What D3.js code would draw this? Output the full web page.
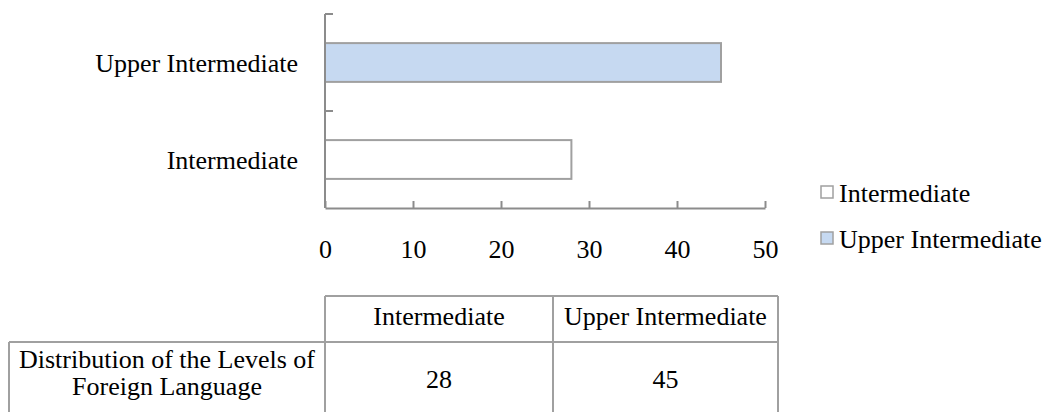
<!DOCTYPE html>
<html>
<head>
<meta charset="utf-8">
<script src="https://cdn.jsdelivr.net/npm/d3@7"></script>
<style>
  html, body { margin: 0; padding: 0; background: #fff; }
  svg { display: block; font-family: "Liberation Serif", "Times New Roman", serif; }
</style>
</head>
<body>
<svg id="chart" width="1054" height="412"></svg>
<script>
// Levels of foreign language (bottom to top on the chart)
const categories = ["Intermediate", "Upper Intermediate"];
const values = [28, 45];
const seriesColors = ["#ffffff", "#c6d9f1"];
const xTicks = [0, 10, 20, 30, 40, 50];
const rowLabelLines = ["Distribution of the Levels of", "Foreign Language"];

const svg = d3.select("#chart");
const FONT = 26;
const lineColor = "#a0a0a0";
const axisColor = "#8c8c8c";

const x = d3.scaleLinear().domain([0, 50]).range([325, 765]);
const y = d3.scaleBand()
  .domain(categories.slice().reverse())
  .range([14, 208])
  .paddingInner(0.6)
  .paddingOuter(0.3);

// bars
svg.append("g").selectAll("rect")
  .data(categories)
  .join("rect")
  .attr("x", x(0))
  .attr("y", d => y(d))
  .attr("width", (d, i) => x(values[i]) - x(0))
  .attr("height", y.bandwidth())
  .attr("fill", (d, i) => seriesColors[i])
  .attr("stroke", lineColor)
  .attr("stroke-width", 2);

// x axis with ticks pointing up
const xAxis = svg.append("g")
  .attr("transform", `translate(0,${y.range()[1]})`)
  .call(d3.axisBottom(x).tickValues(xTicks).tickSizeInner(-7).tickSizeOuter(0).tickPadding(0));
xAxis.select(".domain").attr("stroke", axisColor).attr("stroke-width", 2);
xAxis.selectAll(".tick line").attr("stroke", axisColor).attr("stroke-width", 2);
xAxis.selectAll(".tick text")
  .attr("y", 50).attr("dy", 0)
  .attr("fill", "#000")
  .style("font-size", FONT + "px")
  .style("font-family", "Liberation Serif, Times New Roman, serif");

// y axis: line with ticks at category boundaries, pointing right
const step = y.step();
const y0 = y.range()[0];
const boundaries = d3.range(categories.length + 1).map(i => y0 + i * step);
const yAxis = svg.append("g");
yAxis.append("line")
  .attr("x1", x(0)).attr("x2", x(0))
  .attr("y1", boundaries[0]).attr("y2", boundaries[boundaries.length - 1])
  .attr("stroke", axisColor).attr("stroke-width", 2);
yAxis.selectAll("line.tick")
  .data(boundaries.slice(0, -1))
  .join("line")
  .attr("class", "tick")
  .attr("x1", x(0)).attr("x2", x(0) + 8)
  .attr("y1", d => d).attr("y2", d => d)
  .attr("stroke", axisColor).attr("stroke-width", 2);
yAxis.selectAll("text")
  .data(categories)
  .join("text")
  .attr("x", 298)
  .attr("y", d => y(d) + y.bandwidth() / 2 + 9)
  .attr("text-anchor", "end")
  .style("font-size", FONT + "px")
  .text(d => d);

// legend
const legend = svg.append("g").attr("transform", "translate(821,186)");
const items = legend.selectAll("g")
  .data(categories)
  .join("g")
  .attr("transform", (d, i) => `translate(0,${i * 46})`);
items.append("rect")
  .attr("width", 12).attr("height", 12)
  .attr("fill", (d, i) => seriesColors[i])
  .attr("stroke", lineColor).attr("stroke-width", 1.5);
items.append("text")
  .attr("x", 18).attr("y", 16)
  .style("font-size", FONT + "px")
  .text(d => d);

// data table below the chart
const colX = [9, 325, 553, 778];
const rowY = [296, 342, 422];
const table = svg.append("g");
const tl = (x1, y1, x2, y2) => table.append("line")
  .attr("x1", x1).attr("y1", y1).attr("x2", x2).attr("y2", y2)
  .attr("stroke", lineColor).attr("stroke-width", 2);
tl(colX[1], rowY[0], colX[3], rowY[0]);
tl(colX[0], rowY[1], colX[3], rowY[1]);
tl(colX[0], rowY[1], colX[0], rowY[2]);
[1, 2, 3].forEach(c => tl(colX[c], rowY[0], colX[c], rowY[2]));

table.selectAll("text.head")
  .data(categories)
  .join("text")
  .attr("class", "head")
  .attr("x", (d, i) => (colX[i + 1] + colX[i + 2]) / 2)
  .attr("y", 325)
  .attr("text-anchor", "middle")
  .style("font-size", FONT + "px")
  .text(d => d);

table.selectAll("text.val")
  .data(values)
  .join("text")
  .attr("class", "val")
  .attr("x", (d, i) => (colX[i + 1] + colX[i + 2]) / 2)
  .attr("y", 388)
  .attr("text-anchor", "middle")
  .style("font-size", FONT + "px")
  .text(d => d);

table.selectAll("text.rowlab")
  .data(rowLabelLines)
  .join("text")
  .attr("class", "rowlab")
  .attr("x", (colX[0] + colX[1]) / 2)
  .attr("y", (d, i) => 368 + i * 27)
  .attr("text-anchor", "middle")
  .style("font-size", FONT + "px")
  .text(d => d);
</script>
</body>
</html>
